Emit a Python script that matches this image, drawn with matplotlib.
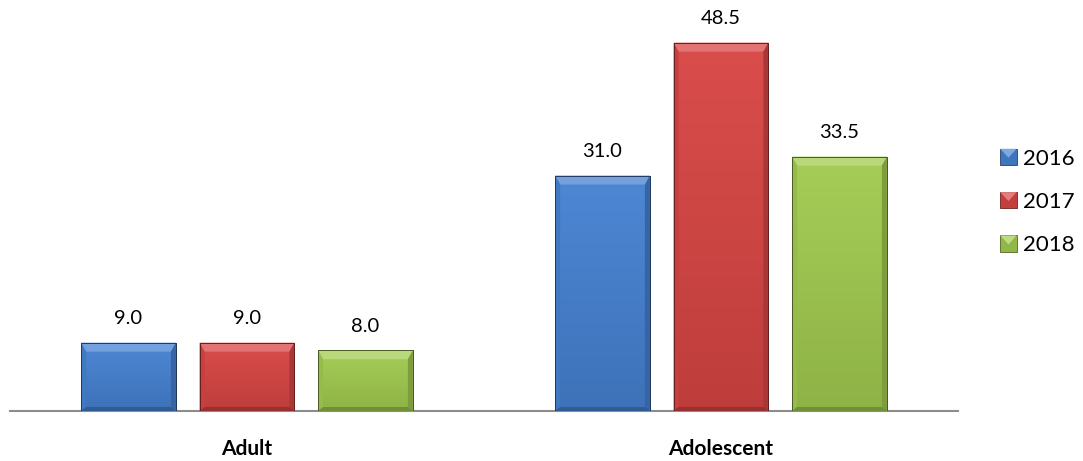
import numpy as np
import matplotlib
matplotlib.use("Agg")
import matplotlib.pyplot as plt
from matplotlib.patches import Patch, Polygon, Rectangle
from matplotlib.legend_handler import HandlerBase
from matplotlib.colors import to_rgb

categories = ["Adult", "Adolescent"]
years = ["2016", "2017", "2018"]
values_2016 = [9.0, 31.0]
values_2017 = [9.0, 48.5]
values_2018 = [8.0, 33.5]
series = [values_2016, values_2017, values_2018]

base_colors = ["#4682d2", "#d84644", "#a2cb50"]

plt.rcParams["font.family"] = ["Lato", "DejaVu Sans"]

fig = plt.figure(figsize=(10.83, 4.61), dpi=100)
ax = fig.add_axes([10 / 1083, 50 / 461, 948 / 1083, 395 / 461])

x = np.arange(len(categories))
width = 0.2
offsets = [-0.25, 0.0, 0.25]

ax.set_xlim(-0.5, 1.5)
ax.set_ylim(0, 52)


def shade(color, f):
    c = np.array(to_rgb(color))
    if f >= 0:
        return tuple(c + (1 - c) * f)
    return tuple(c * (1 + f))


bar_groups = []
for vals, off, col in zip(series, offsets, base_colors):
    bars = ax.bar(x + off, vals, width, color=col, edgecolor=shade(col, -0.55),
                  linewidth=0.6, zorder=3)
    bar_groups.append((bars, col))

fig.canvas.draw()
inv = ax.transData.inverted()
px_x = (inv.transform((1, 0)) - inv.transform((0, 0)))[0]
px_y = (inv.transform((0, 1)) - inv.transform((0, 0)))[1]

for bars, col in bar_groups:
    for b in bars:
        x0, y0 = b.get_x(), b.get_y()
        w, h = b.get_width(), b.get_height()
        x1, y1 = x0 + w, y0 + h
        # vertical gradient body
        grad = np.linspace(0, 1, 64)[:, None]
        top_c = np.array(shade(col, 0.04))
        bot_c = np.array(shade(col, -0.12))
        img = top_c[None, None, :] * (1 - grad[..., None]) + bot_c[None, None, :] * grad[..., None]
        im = ax.imshow(img, extent=(x0, x1, y0, y1), aspect="auto", origin="upper",
                       zorder=3.1, interpolation="bilinear")
        im.set_clip_path(b)
        # bevel edges
        tb = 9 * px_y
        sb = 5 * px_x
        bb = 4 * px_y
        ix0, ix1 = x0 + sb, x1 - sb
        iy0, iy1 = y0 + bb, y1 - tb
        top = Polygon([(x0, y1), (x1, y1), (ix1, iy1), (ix0, iy1)],
                      facecolor=shade(col, 0.25), edgecolor="none", zorder=3.2)
        left = Polygon([(x0, y0), (x0, y1), (ix0, iy1), (ix0, iy0)],
                       facecolor=shade(col, -0.08), edgecolor="none", zorder=3.2)
        right = Polygon([(x1, y0), (x1, y1), (ix1, iy1), (ix1, iy0)],
                        facecolor=shade(col, -0.22), edgecolor="none", zorder=3.2)
        bottom = Polygon([(x0, y0), (x1, y0), (ix1, iy0), (ix0, iy0)],
                         facecolor=shade(col, -0.3), edgecolor="none", zorder=3.2)
        for p in (top, left, right, bottom):
            ax.add_patch(p)
        ax.add_patch(Polygon([(x0, y0), (x0, y1), (x1, y1), (x1, y0)], closed=True,
                             facecolor="none", edgecolor=shade(col, -0.55),
                             linewidth=0.7, zorder=3.3))
        ax.annotate(f"{h:.1f}", (b.get_x() + w / 2, y1), xytext=(0, 11),
                    textcoords="offset points", ha="center", va="bottom",
                    fontsize=14.5, color="#000000", zorder=4)

for s in ["top", "right", "left"]:
    ax.spines[s].set_visible(False)
ax.spines["bottom"].set_color("#8c8c8c")
ax.spines["bottom"].set_linewidth(1.5)
ax.spines["bottom"].set_zorder(2)
ax.set_yticks([])
ax.set_xticks(x)
ax.set_xticklabels(categories, fontsize=15, fontweight="bold")
ax.tick_params(axis="x", length=0, pad=20)


class BevelSquare(HandlerBase):
    def create_artists(self, legend, orig_handle, xdescent, ydescent, width, height,
                       fontsize, trans):
        col = orig_handle.get_facecolor()[:3]
        s = min(width, height)
        x0, y0 = -xdescent + (width - s) / 2, -ydescent + (height - s) / 2
        body = Rectangle((x0, y0), s, s, facecolor=shade(col, -0.1),
                         edgecolor=shade(col, -0.5), linewidth=0.6, transform=trans)
        tri = Polygon([(x0, y0 + s), (x0 + s, y0 + s), (x0 + s * 0.5, y0 + s * 0.45)],
                      facecolor=shade(col, 0.3), edgecolor="none", transform=trans)
        return [body, tri]


handles = [Patch(facecolor=c) for c in base_colors]
fig.legend(handles, years, loc="center left", bbox_to_anchor=(989 / 1083, 1 - 202 / 461),
           frameon=False, fontsize=16, handlelength=0.75, handleheight=0.75,
           handletextpad=0.3, labelspacing=1.05, borderpad=0,
           handler_map={Patch: BevelSquare()})

fig.savefig("out.png", dpi=100)
